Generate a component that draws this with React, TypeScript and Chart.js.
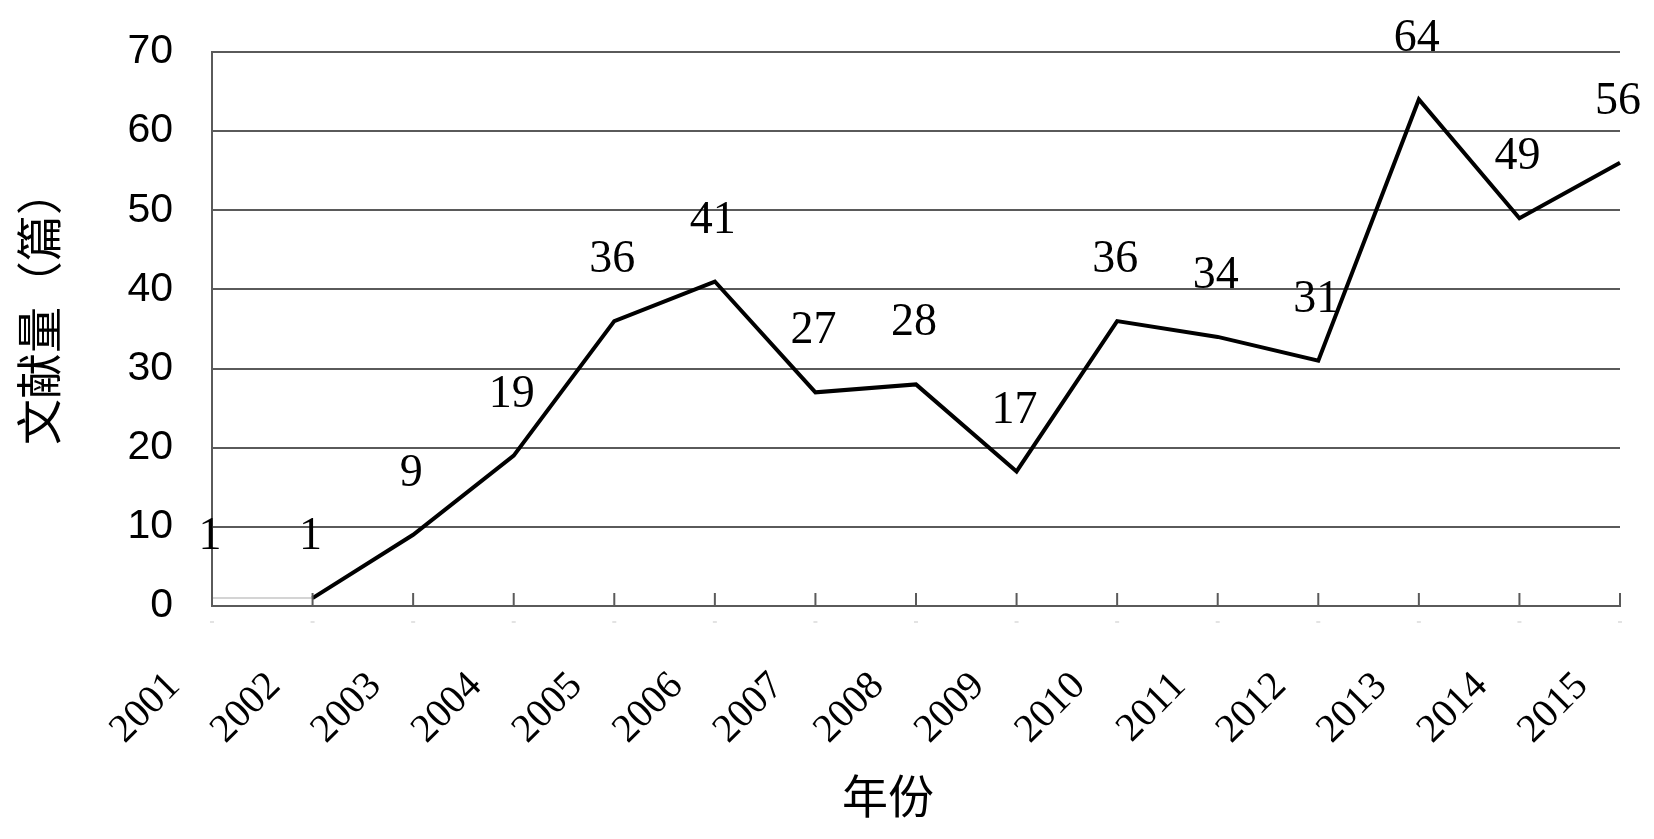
import React, { useEffect, useRef } from "react";
import { Chart, registerables } from "chart.js";

Chart.register(...registerables);

// ---- data ----
const years: string[] = [
  "2001", "2002", "2003", "2004", "2005", "2006", "2007", "2008",
  "2009", "2010", "2011", "2012", "2013", "2014", "2015",
];
const counts: number[] = [1, 1, 9, 19, 36, 41, 27, 28, 17, 36, 34, 31, 64, 49, 56];
const yMin = 0;
const yMax = 70;
const yStep = 10;
const yTitle = "文献量（篇）";
const xTitle = "年份";

const GRID = "#5a5a5a";

const zeroPadding = (scale: any) => {
  scale.paddingLeft = 0;
  scale.paddingRight = 0;
  scale.paddingTop = 0;
  scale.paddingBottom = 0;
};

const overlayPlugin = {
  id: "overlay",
  afterDatasetsDraw(chart: any) {
    const ctx = chart.ctx as CanvasRenderingContext2D;
    const area = chart.chartArea;
    const xs = chart.scales.x;
    ctx.save();
    // inward tick marks on the category axis
    ctx.strokeStyle = GRID;
    ctx.lineWidth = 2;
    xs.ticks.forEach((_: any, i: number) => {
      const x = xs.getPixelForTick(i);
      ctx.beginPath();
      ctx.moveTo(x, area.bottom);
      ctx.lineTo(x, area.bottom - 13);
      ctx.stroke();
      ctx.fillStyle = "#c8c8c8";
      ctx.fillRect(x - 2, area.bottom + 15.5, 4, 1);
    });
    // data labels
    const meta = chart.getDatasetMeta(0);
    ctx.fillStyle = "#000";
    ctx.font = '46px "Liberation Serif"';
    ctx.textAlign = "center";
    ctx.textBaseline = "middle";
    meta.data.forEach((pt: any, i: number) => {
      ctx.fillText(String(counts[i]), pt.x - 2, pt.y - 61);
    });
    ctx.restore();
  },
  afterDraw(chart: any) {
    const ctx = chart.ctx as CanvasRenderingContext2D;
    ctx.save();
    ctx.fillStyle = "#000";
    ctx.font = '46px "Noto Sans CJK SC"';
    ctx.textAlign = "center";
    ctx.textBaseline = "middle";
    // y axis title
    ctx.save();
    ctx.translate(39, 307);
    ctx.rotate(-Math.PI / 2);
    ctx.fillText(yTitle, 0, 0);
    ctx.restore();
    // x axis title
    ctx.fillText(xTitle, 888, 796);
    ctx.restore();
  },
};

export default function App() {
  const ref = useRef<HTMLCanvasElement | null>(null);

  useEffect(() => {
    if (!ref.current) return;
    const chart = new Chart(ref.current, {
      type: "line",
      data: {
        labels: years,
        datasets: [
          {
            data: counts,
            borderColor: "#000",
            borderWidth: 4,
            pointRadius: 0,
            tension: 0,
            fill: false,
            segment: {
              borderColor: (c: any) => (c.p0DataIndex === 0 ? "#d4d4d4" : "#000"),
              borderWidth: (c: any) => (c.p0DataIndex === 0 ? 2 : 4),
            },
          },
        ],
      },
      options: {
        animation: false,
        responsive: true,
        maintainAspectRatio: false,
        layout: { padding: { left: 0, right: 34, top: 52, bottom: 0 } },
        plugins: {
          legend: { display: false },
          tooltip: { enabled: false },
          title: { display: false },
        },
        scales: {
          x: {
            type: "category",
            offset: false,
            grid: { display: true, drawOnChartArea: false, drawTicks: false, tickLength: 0 },
            border: { display: true, color: GRID, width: 2 },
            ticks: {
              autoSkip: false,
              maxRotation: 45,
              minRotation: 45,
              padding: 57,
              labelOffset: -38,
              color: "#000",
              font: { family: '"Liberation Serif"', size: 40 },
            },
            afterFit: (scale: any) => {
              scale.height = 233;
              zeroPadding(scale);
            },
          },
          y: {
            min: yMin,
            max: yMax,
            grid: { color: GRID, lineWidth: 2, drawTicks: false, tickLength: 0 },
            border: { display: true, color: GRID, width: 2 },
            ticks: {
              stepSize: yStep,
              padding: 39,
              color: "#000",
              font: { family: '"Liberation Sans"', size: 41 },
            },
            afterFit: (scale: any) => {
              scale.width = 212;
              zeroPadding(scale);
            },
          },
        },
      },
      plugins: [overlayPlugin],
    });
    return () => chart.destroy();
  }, []);

  return (
    <div style={{ position: "absolute", left: 0, top: 0, width: 1654, height: 839, background: "#fff" }}>
      <canvas ref={ref} />
    </div>
  );
}
